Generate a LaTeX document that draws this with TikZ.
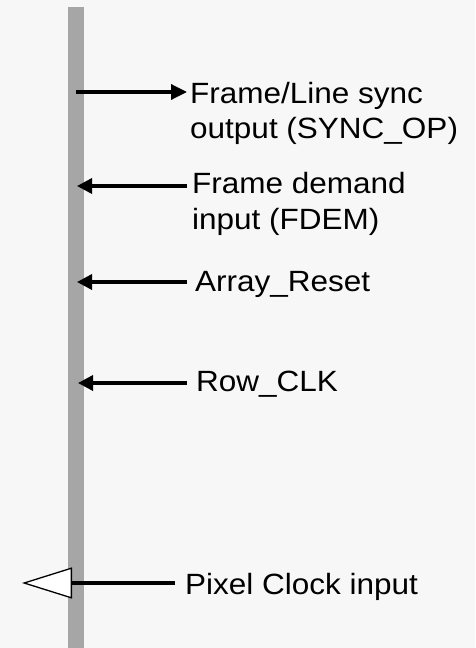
\documentclass[tikz,border=0pt]{standalone}
\usepackage{fontspec}
\usetikzlibrary{arrows.meta}
\newfontfamily\lblfont[FakeStretch=1.075]{Liberation Sans}
\definecolor{bgcol}{HTML}{F7F7F7}
\definecolor{barcol}{HTML}{A6A6A6}
\begin{document}
\begin{tikzpicture}[x=1pt,y=-1pt,
  sig/.style={line width=3.4pt, draw=black},
  outsig/.style={sig, -{Triangle[length=16pt,width=15pt]}},
  insig/.style={sig, -{Triangle[length=15pt,width=15pt]}},
  clksig/.style={sig, -{Triangle[open,length=50pt,width=31pt,line width=1.3pt,fill=white]}},
  lbl/.style={anchor=base west, inner sep=0pt, align=left,
    font=\lblfont\fontsize{29.3pt}{35.5pt}\selectfont}]
  % canvas
  \useasboundingbox[fill=bgcol] (0,0) rectangle (475,648);
  % vertical bus bar
  \fill[barcol] (68,7) rectangle (84,648);
  \node[inner sep=0pt, minimum width=16pt, minimum height=641pt, anchor=north west] (bar) at (68,7) {};

  % connection points on the bar and at the label side
  \coordinate (b1) at (76,92);   \coordinate (s1) at (187,92);
  \coordinate (b2) at (77,186);  \coordinate (s2) at (187,186);
  \coordinate (b3) at (77,282);  \coordinate (s3) at (187,282);
  \coordinate (b4) at (78,383);  \coordinate (s4) at (187,383);
  \coordinate (b5) at (22,583);  \coordinate (s5) at (175,583);

  % labels (base anchor of a two-line label sits on its last line)
  \node[lbl] (l1) at (190,138.5) {Frame/Line sync\\output (SYNC\_OP)};
  \node[lbl] (l2) at (192,229) {Frame demand\\input (FDEM)};
  \node[lbl] (l3) at (195,291) {Array\_Reset};
  \node[lbl] (l4) at (196,391) {Row\_CLK};
  \node[lbl] (l5) at (185,594) {Pixel Clock input};

  % signals
  \draw[outsig] (b1) -- (s1);
  \draw[insig]  (s2) -- (b2);
  \draw[insig]  (s3) -- (b3);
  \draw[insig]  (s4) -- (b4);
  \draw[clksig] (s5) -- (b5);
\end{tikzpicture}
\end{document}
